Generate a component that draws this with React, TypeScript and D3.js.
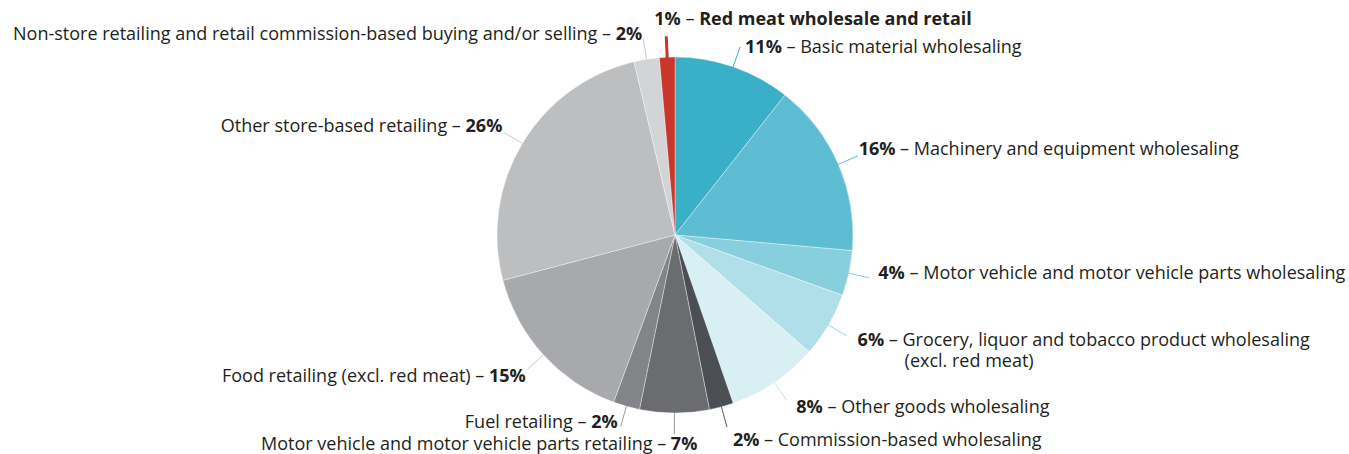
import React from "react";
import * as d3 from "d3";

const categories = [
  "Basic material wholesaling",
  "Machinery and equipment wholesaling",
  "Motor vehicle and motor vehicle parts wholesaling",
  "Grocery, liquor and tobacco product wholesaling",
  "Other goods wholesaling",
  "Commission-based wholesaling",
  "Motor vehicle and motor vehicle parts retailing",
  "Fuel retailing",
  "Food retailing (excl. red meat)",
  "Other store-based retailing",
  "Non-store retailing and retail commission-based buying and/or selling",
  "Red meat wholesale and retail"
];
const shares = [10.6, 15.8, 4.1, 5.9, 8.3, 2.2, 6.3, 2.4, 15.3, 25.4, 2.3, 1.4];
const pctLabels = ["11%", "16%", "4%", "6%", "8%", "2%", "7%", "2%", "15%", "26%", "2%", "1%"];
const sliceColors = [
  "#3aafc8", "#5fbdd3", "#88cfde", "#b1dfe9", "#d8eff4",
  "#4b4e53", "#6b6c70", "#838487", "#a8a9ac", "#bdbec0", "#d3d4d6",
  "#c9372a"
];
const leaderColors = [
  "#3aafc8", "#5fbdd3", "#88cfde", "#9fd6e2", "#bfe3ec",
  "#555759", "#9a9b9d", "#9a9b9d", "#c8c9cb", "#c8c9cb", "#c8c9cb",
  "#c9372a"
];

// label placement relative to leader end
type Lay = { dx: number; dy: number; anchor: "start" | "end"; kind: "pct" | "name" | "bold" };
const layout: Lay[] = [
  { dx: 5, dy: 6, anchor: "start", kind: "pct" },
  { dx: 1, dy: -1, anchor: "start", kind: "pct" },
  { dx: 9, dy: 1, anchor: "start", kind: "pct" },
  { dx: 11, dy: 10, anchor: "start", kind: "pct" },
  { dx: 10, dy: 13, anchor: "start", kind: "pct" },
  { dx: 6, dy: 19, anchor: "start", kind: "pct" },
  { dx: 23, dy: 16, anchor: "end", kind: "name" },
  { dx: -3, dy: 2, anchor: "end", kind: "name" },
  { dx: -2, dy: 13, anchor: "end", kind: "name" },
  { dx: -2, dy: -1, anchor: "end", kind: "name" },
  { dx: -1, dy: 1, anchor: "end", kind: "name" },
  { dx: -12, dy: -11, anchor: "start", kind: "bold" }
];

export default function App() {
  const w = 1349;
  const h = 454;
  const cx = 675;
  const cy = 235;
  const radius = 178;
  const leaderR = 199;

  const pie = d3.pie<number>().sort(null).value(d => d);
  const arcs = pie(shares);
  const arc = d3.arc<d3.PieArcDatum<number>>().innerRadius(0).outerRadius(radius);
  const pt = (a: number, r: number) => [r * Math.sin(a), -r * Math.cos(a)];

  return (
    <svg width={w} height={h} style={{ position: "absolute", left: 0, top: 0 }}
      fontFamily="'Open Sans', 'Noto Sans', sans-serif" fontSize={18}>
      <g transform={`translate(${cx},${cy})`}>
        {arcs.map((a, i) => (
          <path key={i} d={arc(a) as string} fill={sliceColors[i]} stroke="#fff" strokeWidth={0.6} strokeOpacity={0.6} />
        ))}
        {arcs.map((a, i) => {
          const mid = (a.startAngle + a.endAngle) / 2;
          const [x1, y1] = pt(mid, i === 11 ? radius - 4 : radius);
          const [x2, y2] = pt(mid, leaderR);
          return (
            <line key={i} x1={x1} y1={y1} x2={x2} y2={y2}
              stroke={leaderColors[i]} strokeWidth={i === 11 ? 3 : 1} />
          );
        })}
        {arcs.map((a, i) => {
          const mid = (a.startAngle + a.endAngle) / 2;
          const [ex, ey] = pt(mid, leaderR);
          const L = layout[i];
          const x = ex + L.dx;
          const y = ey + L.dy;
          const name = categories[i];
          if (L.kind === "name") {
            return (
              <text key={i} x={x} y={y} textAnchor={L.anchor} fill="#231f20">
                {name} – <tspan fontWeight={700}>{pctLabels[i]}</tspan>
              </text>
            );
          }
          if (L.kind === "bold") {
            return (
              <text key={i} x={x} y={y} textAnchor={L.anchor} fill="#231f20">
                <tspan fontWeight={700}>{pctLabels[i]}</tspan> – <tspan fontWeight={700}>{name}</tspan>
              </text>
            );
          }
          if (i === 3) {
            return (
              <g key={i}>
                <text x={x} y={y} textAnchor="start" fill="#231f20">
                  <tspan fontWeight={700}>{pctLabels[i]}</tspan> – {name}
                </text>
                <text x={x + 47} y={y + 21} textAnchor="start" fill="#231f20">(excl. red meat)</text>
              </g>
            );
          }
          return (
            <text key={i} x={x} y={y} textAnchor={L.anchor} fill="#231f20">
              <tspan fontWeight={700}>{pctLabels[i]}</tspan> – {name}
            </text>
          );
        })}
      </g>
    </svg>
  );
}
